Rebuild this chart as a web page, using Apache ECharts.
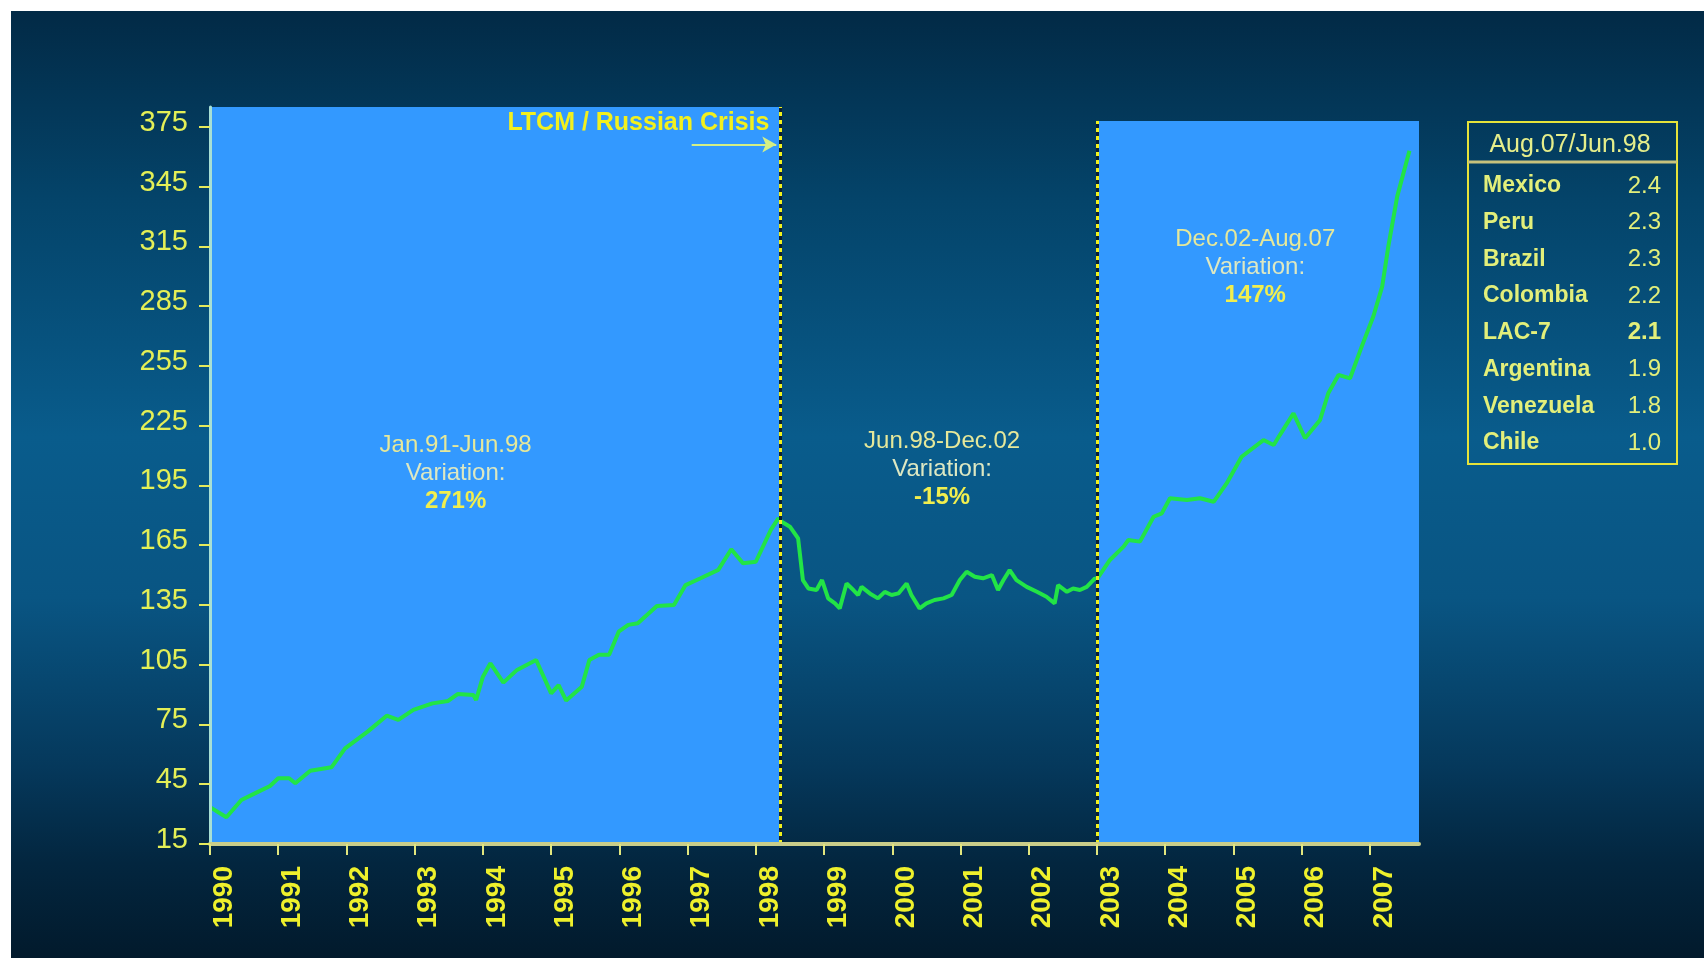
<!DOCTYPE html>
<html>
<head>
<meta charset="utf-8">
<script src="https://cdn.jsdelivr.net/npm/echarts@6/dist/echarts.min.js"></script>
<style>
  html, body { margin: 0; padding: 0; background: #ffffff; width: 1704px; height: 958px; overflow: hidden; }
  #chart { position: absolute; left: 11px; top: 11px; width: 1693px; height: 947px; }
</style>
</head>
<body>
<div id="chart"></div>
<script>
// LAC-7 equity index, observations by fractional year (1990 = Jan 1990)
const dates = [
  1990.00, 1990.24, 1990.46, 1990.68, 1990.88, 1991.00, 1991.16, 1991.25, 1991.47, 1991.78,
  1991.98, 1992.31, 1992.59, 1992.76, 1992.98, 1993.26, 1993.49, 1993.63, 1993.86, 1993.90,
  1994.00, 1994.11, 1994.30, 1994.50, 1994.78, 1995.00, 1995.11, 1995.22, 1995.45, 1995.56,
  1995.70, 1995.85, 1995.99, 1996.13, 1996.27, 1996.55, 1996.80, 1996.97, 1997.19, 1997.45,
  1997.64, 1997.81, 1998.00, 1998.22, 1998.33, 1998.38, 1998.50, 1998.62, 1998.69, 1998.77,
  1998.89, 1998.97, 1999.06, 1999.16, 1999.23, 1999.33, 1999.43, 1999.50, 1999.55, 1999.67,
  1999.79, 1999.89, 1999.99, 2000.09, 2000.21, 2000.28, 2000.40, 2000.50, 2000.62, 2000.75,
  2000.87, 2000.99, 2001.09, 2001.21, 2001.33, 2001.46, 2001.55, 2001.63, 2001.72, 2001.82,
  2001.97, 2002.12, 2002.26, 2002.38, 2002.43, 2002.56, 2002.65, 2002.75, 2002.85, 2002.97,
  2003.00, 2003.19, 2003.39, 2003.46, 2003.63, 2003.83, 2003.95, 2004.07, 2004.32, 2004.51,
  2004.71, 2004.90, 2005.12, 2005.44, 2005.59, 2005.68, 2005.88, 2006.05, 2006.27, 2006.39,
  2006.54, 2006.71, 2006.88, 2007.05, 2007.18, 2007.27, 2007.40, 2007.58
];
const lac7 = [
  33.5, 28.4, 37.1, 40.8, 44.1, 48.0, 48.0, 45.5, 51.8, 53.5,
  63.0, 71.4, 79.4, 77.3, 82.3, 85.6, 86.8, 90.3, 89.8, 87.3,
  99.0, 105.7, 96.0, 102.4, 107.4, 90.6, 94.8, 87.0, 94.0, 107.4,
  110.0, 110.0, 121.6, 125.0, 125.8, 134.5, 135.0, 145.0, 148.4, 152.6,
  163.0, 156.0, 156.7, 172.7, 178.5, 176.8, 174.3, 168.4, 147.5, 143.3,
  142.5, 147.5, 138.3, 135.8, 133.3, 145.8, 142.5, 140.0, 144.1, 140.8,
  138.3, 141.6, 140.0, 140.8, 145.8, 140.0, 133.3, 135.8, 137.5, 138.3,
  140.0, 147.5, 151.7, 149.2, 148.4, 150.0, 142.5, 147.5, 152.5, 147.5,
  144.1, 141.6, 139.1, 135.8, 145.0, 141.6, 143.3, 142.5, 144.1, 148.4,
  148.0, 157.6, 164.3, 167.6, 166.8, 179.3, 181.0, 188.6, 187.7, 188.6,
  186.8, 196.0, 209.4, 217.8, 215.3, 220.3, 231.2, 218.7, 227.9, 241.3,
  250.5, 248.8, 264.7, 279.8, 294.8, 314.9, 340.0, 363.0
];

// Axis ticks
const yearTicks = [1990, 1991, 1992, 1993, 1994, 1995, 1996, 1997, 1998,
                   1999, 2000, 2001, 2002, 2003, 2004, 2005, 2006, 2007];
const valueTicks = [15, 45, 75, 105, 135, 165, 195, 225, 255, 285, 315, 345, 375];

// Period boundaries: Jun.98 (LTCM / Russian crisis) and Dec.02
const crisisDate = 1998.36;
const recoveryDate = 2003.0;
const lastDate = 2007.72;

// Period notes
const periodRanges = ['Jan.91-Jun.98', 'Jun.98-Dec.02', 'Dec.02-Aug.07'];
const periodChanges = ['271%', '-15%', '147%'];
const crisisLabel = 'LTCM / Russian Crisis';

// Ratio table, Aug.07 over Jun.98
const ratioTitle = 'Aug.07/Jun.98';
const ratioCountries = ['Mexico', 'Peru', 'Brazil', 'Colombia', 'LAC-7', 'Argentina', 'Venezuela', 'Chile'];
const ratioValues = [2.4, 2.3, 2.3, 2.2, 2.1, 1.9, 1.8, 1.0];

const FONT = "'Liberation Sans', Arial, sans-serif";
const Y_MIN = 15, Y_MAX = 385, SHADE3_TOP = 378;

const chart = echarts.init(document.getElementById('chart'), null, { renderer: 'canvas' });

const seriesData = dates.map((d, i) => [d, lac7[i]]);

const noteRich = {
  a: { color: '#e6e89a', fontFamily: FONT, fontSize: 24, lineHeight: 28 },
  v: { color: '#dde8c2', fontFamily: FONT, fontSize: 24, lineHeight: 28 },
  b: { color: '#f1ee4e', fontFamily: FONT, fontSize: 24, fontWeight: 'bold', lineHeight: 28 }
};
function periodNote(i, coord) {
  return {
    coord: coord,
    symbolSize: 0,
    label: {
      show: true,
      position: 'inside',
      formatter: '{a|' + periodRanges[i] + '}\n{v|Variation:}\n{b|' + periodChanges[i] + '}',
      rich: noteRich
    }
  };
}

// Table on the right
const tableChildren = [
  { type: 'rect', shape: { x: 0, y: 0, width: 209, height: 342 },
    style: { fill: 'none', stroke: '#e6e33a', lineWidth: 2 } },
  { type: 'line', shape: { x1: 0, y1: 40, x2: 209, y2: 40 },
    style: { stroke: '#c8c27c', lineWidth: 3 } },
  { type: 'text', x: 102, y: 23,
    style: { text: ratioTitle, align: 'center', verticalAlign: 'middle',
             fill: '#e6ee8a', font: '25px ' + FONT } }
];
ratioCountries.forEach((name, i) => {
  const y = 64 + i * 36.7;
  const strong = name === 'LAC-7';
  tableChildren.push({ type: 'text', x: 15, y: y,
    style: { text: name, align: 'left', verticalAlign: 'middle',
             fill: '#e3ef7a', font: 'bold 23px ' + FONT } });
  tableChildren.push({ type: 'text', x: 193, y: y,
    style: { text: ratioValues[i].toFixed(1), align: 'right', verticalAlign: 'middle',
             fill: '#e3ef7a', font: (strong ? 'bold ' : '') + '24px ' + FONT } });
});

const option = {
  animation: false,
  backgroundColor: {
    type: 'linear', x: 0, y: 0, x2: 0, y2: 1,
    colorStops: [
      { offset: 0.00, color: '#022a46' },
      { offset: 0.20, color: '#04446a' },
      { offset: 0.45, color: '#095c8c' },
      { offset: 0.62, color: '#095583' },
      { offset: 0.80, color: '#05385b' },
      { offset: 0.90, color: '#03263f' },
      { offset: 1.00, color: '#021a2c' }
    ]
  },
  grid: { left: 199, top: 96, right: 285, bottom: 114 },
  xAxis: {
    type: 'value',
    min: 1990,
    max: lastDate,
    z: 6,
    splitLine: { show: false },
    axisLine: { show: true, onZero: false, lineStyle: { color: '#c9cd8a', width: 4 } },
    axisTick: { show: true, customValues: yearTicks, length: 11,
                lineStyle: { color: '#e2e67e', width: 2 } },
    axisLabel: {
      customValues: yearTicks,
      rotate: 90,
      margin: 22,
      verticalAlign: 'top',
      color: '#eef02c',
      fontFamily: FONT,
      fontSize: 28,
      fontWeight: 'bold',
      formatter: v => String(v)
    }
  },
  yAxis: {
    type: 'value',
    min: Y_MIN,
    max: Y_MAX,
    z: 6,
    splitLine: { show: false },
    axisLine: { show: true, onZero: false, lineStyle: { color: '#a8e0d4', width: 3 } },
    axisTick: { show: true, customValues: valueTicks, length: 11,
                lineStyle: { color: '#e6ea5c', width: 2 } },
    axisLabel: {
      customValues: valueTicks,
      margin: 22,
      formatter: v => '{n|' + v + '}',
      rich: {
        n: { color: '#e4ef56', fontFamily: FONT, fontSize: 29, padding: [0, 0, 8, 0] }
      }
    }
  },
  series: [{
    name: 'LAC-7',
    type: 'line',
    data: seriesData,
    symbol: 'none',
    smooth: false,
    z: 3,
    lineStyle: { color: '#22e446', width: 4 },
    markArea: {
      silent: true,
      itemStyle: { color: '#3399ff' },
      data: [
        [{ coord: [1990, Y_MIN] }, { coord: [crisisDate, Y_MAX] }],
        [{ coord: [recoveryDate, Y_MIN] }, { coord: [lastDate, SHADE3_TOP] }]
      ]
    },
    markLine: {
      silent: true,
      symbol: ['none', 'none'],
      label: { show: false },
      data: [
        [{ coord: [crisisDate, Y_MIN], lineStyle: { color: '#0b2032', width: 3, type: 'solid' } },
         { coord: [crisisDate, Y_MAX] }],
        [{ coord: [crisisDate, Y_MIN], lineStyle: { color: '#f2f21c', width: 3, type: [4, 4] } },
         { coord: [crisisDate, Y_MAX] }],
        [{ coord: [recoveryDate, Y_MIN], lineStyle: { color: '#0b2032', width: 3, type: 'solid' } },
         { coord: [recoveryDate, SHADE3_TOP] }],
        [{ coord: [recoveryDate, Y_MIN], lineStyle: { color: '#f2f21c', width: 3, type: [4, 4] } },
         { coord: [recoveryDate, SHADE3_TOP] }],
        [{ coord: [1997.06, 366.2], symbol: 'none',
           lineStyle: { color: '#d4ef86', width: 2, type: 'solid' } },
         { coord: [1998.30, 366.2], symbol: 'arrow', symbolSize: [12, 14] }]
      ]
    },
    markPoint: {
      silent: true,
      symbol: 'circle',
      symbolSize: 0,
      itemStyle: { color: 'transparent' },
      data: [
        periodNote(0, [1993.6, 201]),
        periodNote(1, [2000.73, 203]),
        periodNote(2, [2005.32, 304.6]),
        {
          coord: [1998.2, 377],
          symbolSize: 0,
          label: {
            show: true, position: 'left', distance: 0,
            formatter: crisisLabel,
            color: '#f2f01e', fontFamily: FONT, fontSize: 25, fontWeight: 'bold'
          }
        }
      ]
    }
  }],
  graphic: [{ type: 'group', x: 1457, y: 111, children: tableChildren }]
};

chart.setOption(option);
</script>
</body>
</html>
